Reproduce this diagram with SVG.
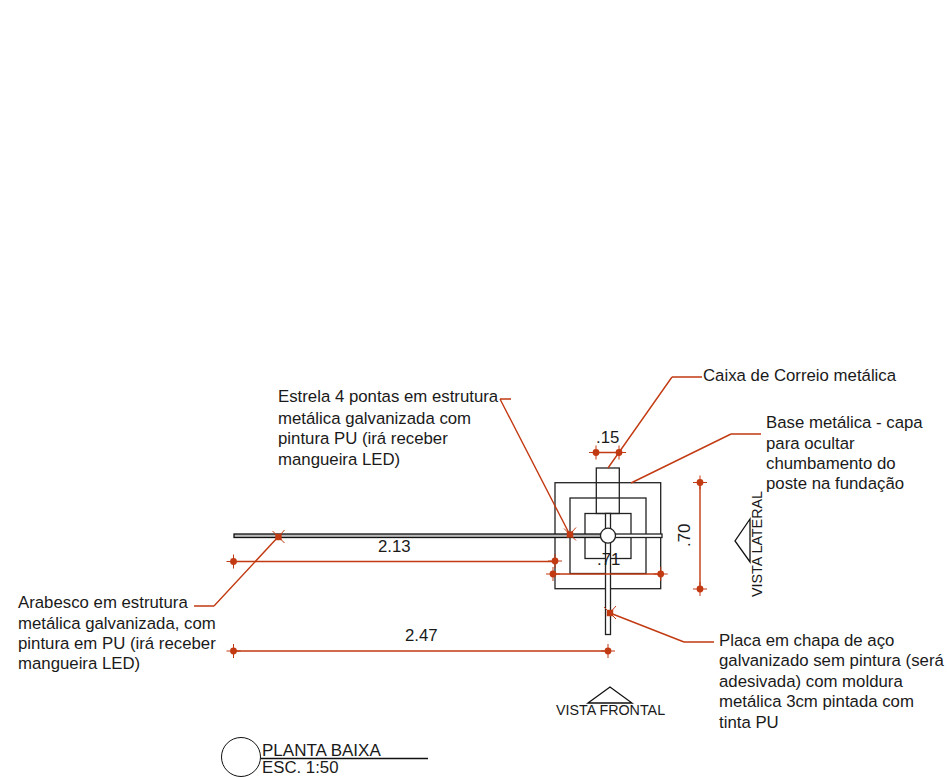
<svg xmlns="http://www.w3.org/2000/svg" width="947" height="777" viewBox="0 0 947 777">
<style>
text{font-family:"Liberation Sans",Arial,sans-serif;font-size:16.8px;fill:#1a1a1a}
.k{fill:none;stroke:#222;stroke-width:1.3}
.w{fill:#fff;stroke:#222;stroke-width:1.3}
.r{fill:none;stroke:#c23a12;stroke-width:1.4}
.t{fill:none;stroke:#c23a12;stroke-width:1}
.d{fill:#c23a12}
</style>
<defs>
<g id="tick"><circle class="d" r="3.4"/><path class="t" d="M-7 0H7M0-7V7"/></g>
<g id="tickx"><rect class="d" x="-3.2" y="-3.2" width="6.400" height="6.400"/><path class="t" d="M-6-6L6 6M6-7L-2 2"/></g>
</defs>
<rect width="947" height="777" fill="#fff"/>
<g id="planta">
<rect class="k" x="555" y="482.700" width="105.700" height="106"/>
<rect class="k" x="570" y="498" width="76" height="75.500"/>
<rect class="k" x="585" y="513.500" width="46" height="45"/>
<rect class="k" x="596.300" y="468" width="23" height="45.500"/>
<rect x="234" y="534" width="376" height="3.500" fill="#bbb" stroke="#111" stroke-width="1.300"/>
<rect class="w" x="608" y="534" width="54" height="3.500"/>
<rect class="w" x="605.500" y="513.500" width="5" height="121"/>
<circle class="w" cx="608" cy="535.700" r="7.500"/>
</g>
<g id="connectors">
<path class="r" d="M233.500 561.500H555M233.500 651H608M553 574H660.700M596 452.500H619M700 482.500V589"/>
<path class="r" d="M672 377H702M672 377L608 468M731 434H761M731 434L631 483M511 399H500M500 399L570 535M214 606H194M214 606L278 537M684 642H714M684 642L610 613"/>
</g>
<g id="ticks">
<use href="#tick" x="233.500" y="561.500"/>
<use href="#tick" x="555" y="561"/>
<use href="#tick" x="233.500" y="651"/>
<use href="#tick" x="608" y="651"/>
<use href="#tick" x="553" y="574"/>
<use href="#tick" x="660.700" y="574"/>
<use href="#tick" x="596" y="452.500"/>
<use href="#tick" x="619" y="452.500"/>
<use href="#tick" x="700" y="482.500"/>
<use href="#tick" x="700" y="589"/>
<use href="#tickx" x="278.500" y="537"/>
<use href="#tickx" x="570" y="534.500"/>
<use href="#tickx" x="610" y="613"/>
</g>
<g id="dimensions">
<text x="378" y="552">2.13</text>
<text x="405" y="641">2.47</text>
<text x="597" y="565">.71</text>
<text x="596" y="443">.15</text>
<text transform="translate(690 547) rotate(-90)">.70</text>
</g>
<g id="label-caixa"><text x="703" y="381">Caixa de Correio metálica</text></g>
<g id="label-base">
<text x="766" y="428">Base metálica - capa</text>
<text x="766" y="449">para ocultar</text>
<text x="766" y="469">chumbamento do</text>
<text x="766" y="489">poste na fundação</text>
</g>
<g id="label-estrela">
<text x="278" y="402">Estrela 4 pontas em estrutura</text>
<text x="278" y="424">metálica galvanizada com</text>
<text x="278" y="444">pintura PU (irá receber</text>
<text x="278" y="465">mangueira LED)</text>
</g>
<g id="label-arabesco">
<text x="18" y="608">Arabesco em estrutura</text>
<text x="18" y="629">metálica galvanizada, com</text>
<text x="18" y="649">pintura em PU (irá receber</text>
<text x="18" y="669">mangueira LED)</text>
</g>
<g id="label-placa">
<text x="719" y="646">Placa em chapa de aço</text>
<text x="719" y="666">galvanizado sem pintura (será</text>
<text x="719" y="687">adesivada) com moldura</text>
<text x="719" y="707">metálica 3cm pintada com</text>
<text x="719" y="728">tinta PU</text>
</g>
<g id="vista-frontal">
<path d="M588 703L610 687L632 703Z" fill="none" stroke="#111" stroke-width="1.300"/>
<text x="556" y="715" style="font-size:14.300px">VISTA FRONTAL</text>
</g>
<g id="vista-lateral">
<path d="M750 519L735 541L750 562Z" fill="none" stroke="#111" stroke-width="1.300"/>
<text transform="translate(762 597) rotate(-90)" style="font-size:14.300px">VISTA LATERAL</text>
</g>
<g id="titulo">
<circle cx="241" cy="757" r="19.500" fill="none" stroke="#111" stroke-width="1"/>
<path d="M261 758.500H428" stroke="#111" stroke-width="1.300"/>
<text x="262" y="756" style="font-size:17px">PLANTA BAIXA</text>
<text x="262" y="773.300" style="font-size:16.800px">ESC. 1:50</text>
</g>
</svg>
